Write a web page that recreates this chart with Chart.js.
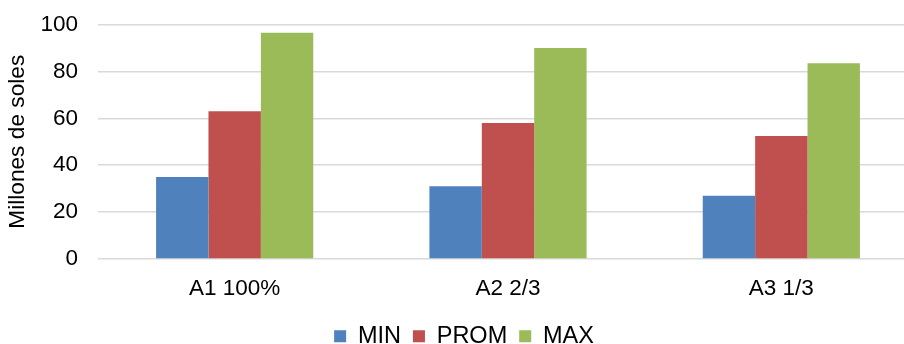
<!DOCTYPE html>
<html>
<head>
<meta charset="utf-8">
<script src="https://cdn.jsdelivr.net/npm/chart.js@4/dist/chart.umd.min.js"></script>
<style>
  html, body { margin: 0; padding: 0; overflow: hidden; background: #fff; }
  #wrap { width: 918px; height: 358px; position: relative; }
</style>
</head>
<body>
<div id="wrap"><canvas id="c"></canvas></div>
<script>
// Scenario labels and values (millions of soles)
const categories = ['A1 100%', 'A2 2/3', 'A3 1/3'];
const minValues  = [35, 31, 27];
const promValues = [63, 58, 52.5];
const maxValues  = [96.5, 90, 83.5];
const yTicks     = [0, 20, 40, 60, 80, 100];
const seriesNames = ['MIN', 'PROM', 'MAX'];

Chart.defaults.font.family = "'Liberation Sans', Arial, sans-serif";
Chart.defaults.color = '#000';

// nudges the centred legend row a little to the right
const legendShift = {
  id: 'legendShift',
  afterLayout(chart) {
    const lg = chart.legend;
    if (lg) { lg.left += 5; lg.right += 5; }
  }
};

new Chart(document.getElementById('c'), {
  type: 'bar',
  data: {
    labels: categories,
    datasets: [
      { label: seriesNames[0], data: minValues,  backgroundColor: '#4F81BD' },
      { label: seriesNames[1], data: promValues, backgroundColor: '#C0504D' },
      { label: seriesNames[2], data: maxValues,  backgroundColor: '#9BBB59' }
    ]
  },
  options: {
    responsive: true,
    maintainAspectRatio: false,
    animation: false,
    devicePixelRatio: 1,
    layout: { padding: { top: 24.5, right: 0, bottom: 0, left: 0 } },
    datasets: { bar: { categoryPercentage: 0.575, barPercentage: 1.0 } },
    plugins: {
      tooltip: { enabled: false },
      legend: {
        position: 'bottom',
        labels: {
          boxWidth: 12,
          boxHeight: 12,
          padding: 12,
          font: { size: 23.5 },
          color: '#000'
        }
      }
    },
    scales: {
      x: {
        grid: { display: false },
        border: { display: false },
        ticks: { padding: 8.5, font: { size: 22.5 }, color: '#000' },
        afterFit(scale) { scale.height = 53.5; }
      },
      y: {
        min: 0,
        max: 100,
        afterBuildTicks(scale) { scale.ticks = yTicks.map(v => ({ value: v })); },
        grid: { color: '#d9d9d9', lineWidth: 1.5, drawTicks: false },
        border: { display: false },
        ticks: { padding: 20, font: { size: 22.5 }, color: '#000' },
        title: {
          display: true,
          text: 'Millones de soles',
          font: { size: 22.7 },
          color: '#000',
          padding: { top: 4, bottom: 0 }
        },
        afterFit(scale) {
          scale.width = 98;
          scale.paddingTop = 0;
          scale.paddingBottom = 0;
        }
      }
    }
  },
  plugins: [legendShift]
});
</script>
</body>
</html>
